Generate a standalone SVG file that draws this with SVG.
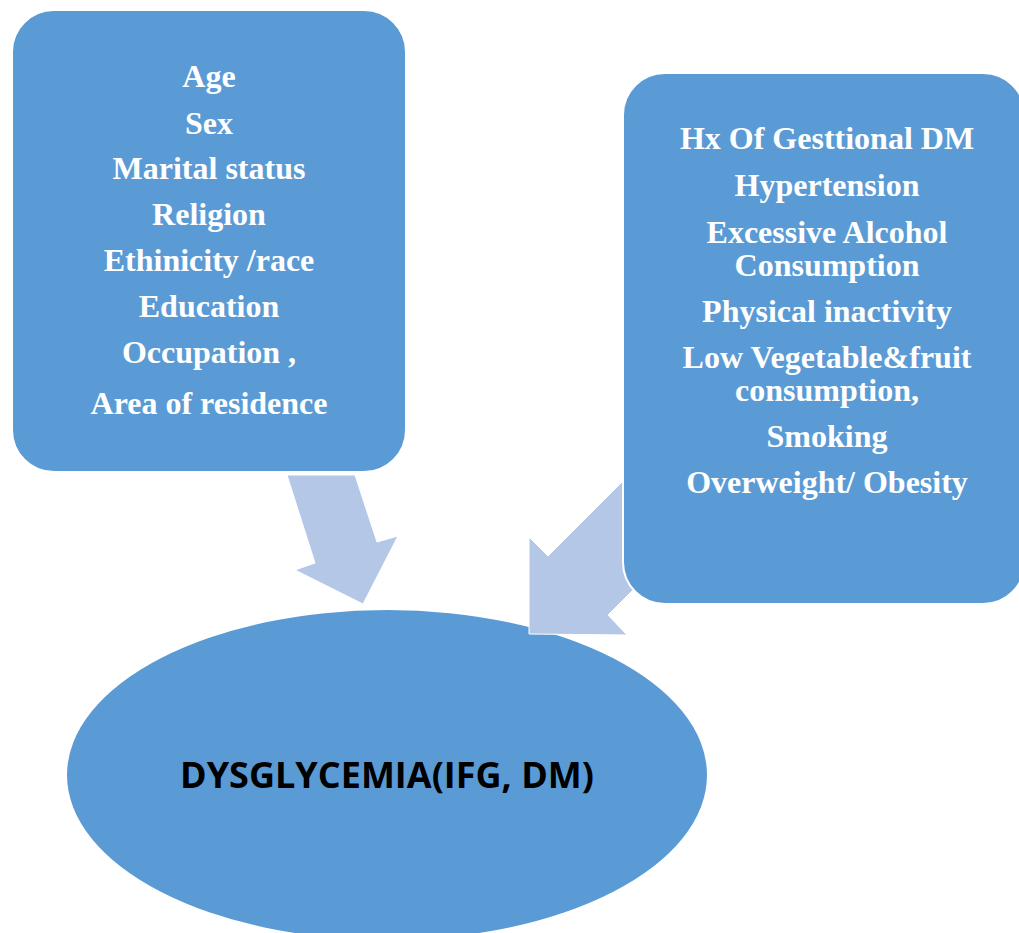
<svg xmlns="http://www.w3.org/2000/svg" width="1019" height="933" viewBox="0 0 1019 933">
<style>
.box{fill:#5B9BD5;stroke:#FFFFFF;stroke-width:2}
.arrow{fill:#B4C7E7;stroke:#FFFFFF;stroke-width:1}
.lbl{font-family:"Liberation Serif","Times New Roman",serif;font-weight:bold;font-size:32px;fill:#FFFFFF;text-anchor:middle}
.main{font-family:"Open Sans","Liberation Sans",sans-serif;font-weight:bold;font-size:35px;fill:#000000;text-anchor:middle}
</style>
<rect width="1019" height="933" fill="#FFFFFF"/>
<g id="dysglycemia">
<ellipse cx="387" cy="775" rx="320" ry="165" fill="#5B9BD5"/>
<text class="main" x="387" y="788" textLength="414" lengthAdjust="spacingAndGlyphs">DYSGLYCEMIA(IFG, DM)</text>
</g>
<g id="connectors">
<polygon class="arrow" points="287,475 355,475 377,542 398,536 363,604 295,570 315,563"/>
<polygon class="arrow" points="548,556 680,424 740,483 608,615 627,635 529,634 529,537"/>
</g>
<g id="sociodemographic">
<rect class="box" x="12" y="10" width="394" height="462" rx="42" ry="42"/>
<text class="lbl" x="209" y="87">Age</text>
<text class="lbl" x="209" y="134">Sex</text>
<text class="lbl" x="209" y="179">Marital status</text>
<text class="lbl" x="209" y="225">Religion</text>
<text class="lbl" x="209" y="271">Ethinicity /race</text>
<text class="lbl" x="209" y="317">Education</text>
<text class="lbl" x="209" y="363">Occupation ,</text>
<text class="lbl" x="209" y="414">Area of residence</text>
</g>
<g id="risk-factors">
<rect class="box" x="623" y="73" width="402" height="531" rx="42" ry="42"/>
<text class="lbl" x="827" y="149">Hx Of Gesttional DM</text>
<text class="lbl" x="827" y="196">Hypertension</text>
<text class="lbl" x="827" y="243">Excessive Alcohol</text>
<text class="lbl" x="827" y="276">Consumption</text>
<text class="lbl" x="827" y="322">Physical inactivity</text>
<text class="lbl" x="827" y="368">Low Vegetable&amp;fruit</text>
<text class="lbl" x="827" y="401">consumption,</text>
<text class="lbl" x="827" y="447">Smoking</text>
<text class="lbl" x="827" y="493">Overweight/ Obesity</text>
</g>
</svg>
